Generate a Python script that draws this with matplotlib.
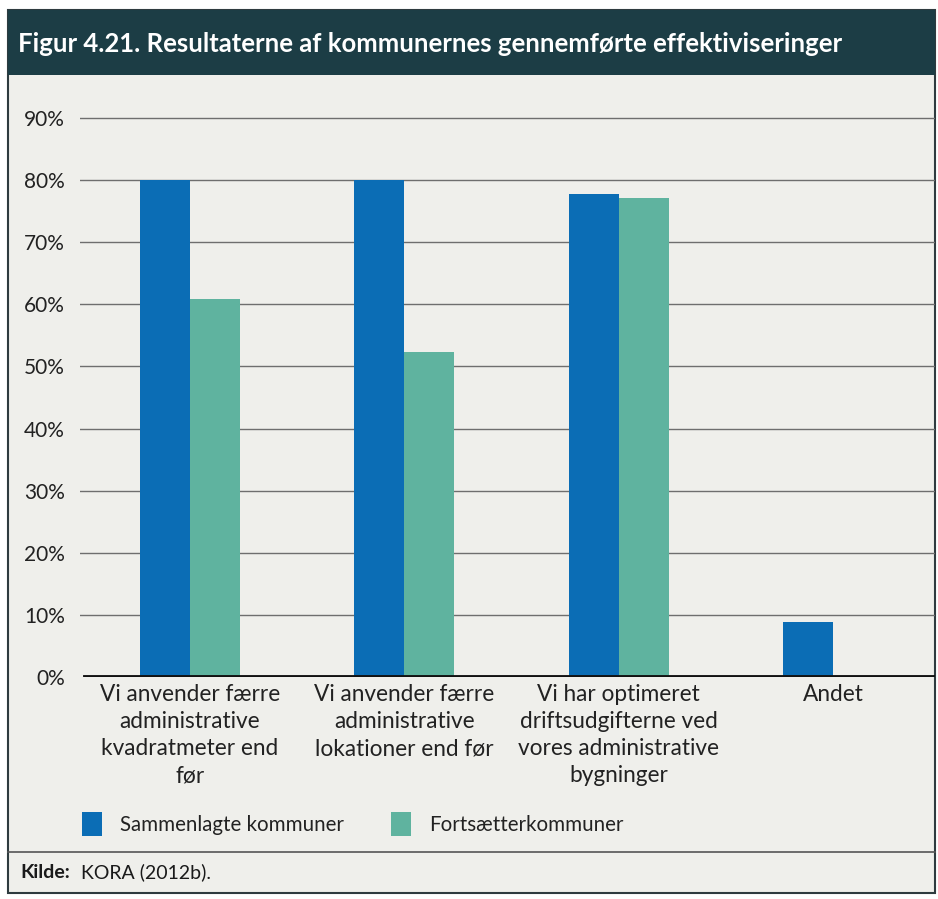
import matplotlib
matplotlib.use("Agg")
import matplotlib.pyplot as plt
from matplotlib.patches import Rectangle, Patch
import numpy as np

categories = ["Vi anvender færre\nadministrative\nkvadratmeter end\nfør",
              "Vi anvender færre\nadministrative\nlokationer end før",
              "Vi har optimeret\ndriftsudgifterne ved\nvores administrative\nbygninger",
              "Andet"]
sammenlagte = [0.80, 0.80, 0.778, 0.089]
fortsaetter = [0.609, 0.523, 0.771, 0.0]
series_names = ["Sammenlagte kommuner", "Fortsætterkommuner"]
yticks = [0, 0.1, 0.2, 0.3, 0.4, 0.5, 0.6, 0.7, 0.8, 0.9]
ytick_labels = ["0%", "10%", "20%", "30%", "40%", "50%", "60%", "70%", "80%", "90%"]
title = "Figur 4.21. Resultaterne af kommunernes gennemførte effektiviseringer"
source_bold = "Kilde:"
source_text = "KORA (2012b)."

BLUE = "#0b6db5"
TEAL = "#5fb39f"
BG = "#efefeb"
HEAD = "#1c3d45"
FONT = ["Lato", "DejaVu Sans"]
plt.rcParams['font.family'] = FONT

W, H = 938, 899
fig = plt.figure(figsize=(W / 100, H / 100), dpi=100)
fig.patch.set_facecolor("white")

def px(x, y, w, h):
    return [x / W, 1 - (y + h) / H, w / W, h / H]

# panel background and border
fig.patches.append(Rectangle((8 / W, 1 - 893 / H), 927 / W, 883 / H, transform=fig.transFigure,
                             facecolor=BG, edgecolor="#2e3b3f", linewidth=1.5, zorder=-3))
# header band
fig.patches.append(Rectangle((8 / W, 1 - 75 / H), 927 / W, 65 / H, transform=fig.transFigure,
                             facecolor=HEAD, edgecolor="none", zorder=-2))
fig.text(18 / W, 1 - 44 / H, title, color="white", fontsize=18.5, fontweight="bold",
         va="center", ha="left")
# footer separator
fig.add_artist(plt.Line2D([8 / W, 935 / W], [1 - 852 / H, 1 - 852 / H], color="#555555", lw=1.2,
                          transform=fig.transFigure))
fig.text(20 / W, 1 - 872 / H, source_bold, fontsize=14, fontweight="bold", va="center", ha="left",
         color="#1a1a1a")
fig.text(81 / W, 1 - 872 / H, source_text, fontsize=14, va="center", ha="left", color="#1a1a1a")

# axes
top_val = 0.92
ppu = 621.0  # pixels per 100%
ax_top = 677 - top_val * ppu
ax = fig.add_axes(px(80, ax_top, 855, 677 - ax_top))
ax.set_facecolor("none")
x = np.arange(len(categories))
bw = 50 / 214.3
ax.bar(x - bw / 2, sammenlagte, width=bw, color=BLUE, zorder=3)
ax.bar(x + bw / 2, fortsaetter, width=bw, color=TEAL, zorder=3)
ax.set_ylim(0, top_val)
ax.set_xlim(-110 / 214.3, 3 + 102 / 214.3)
ax.set_yticks(yticks)
ax.set_yticklabels(ytick_labels, fontsize=15, color="#222222")
for yv in yticks[1:]:
    ax.axhline(yv, color="#6e6e6e", lw=1.0, zorder=1)
ax.axhline(0, color="#111111", lw=3.5, zorder=4, xmin=5 / 855, xmax=1.0)
ax.tick_params(axis="y", length=0, pad=11)
ax.set_xticks(x)
ax.set_xticklabels(categories, fontsize=16.3, color="#222222", linespacing=1.36)
ax.tick_params(axis="x", length=0, pad=5)
for s in ax.spines.values():
    s.set_visible(False)

# legend
handles = [Patch(facecolor=BLUE, edgecolor="none"), Patch(facecolor=TEAL, edgecolor="none")]
leg = fig.legend(handles, series_names, loc="center left", bbox_to_anchor=(63 / W, 1 - 824 / H),
                 ncol=2, frameon=False, fontsize=14.8, handlelength=1.0, handleheight=1.4,
                 columnspacing=2.3, handletextpad=0.85)
for txt in leg.get_texts():
    txt.set_color("#222222")

fig.savefig("out.png", dpi=100, facecolor="white")
